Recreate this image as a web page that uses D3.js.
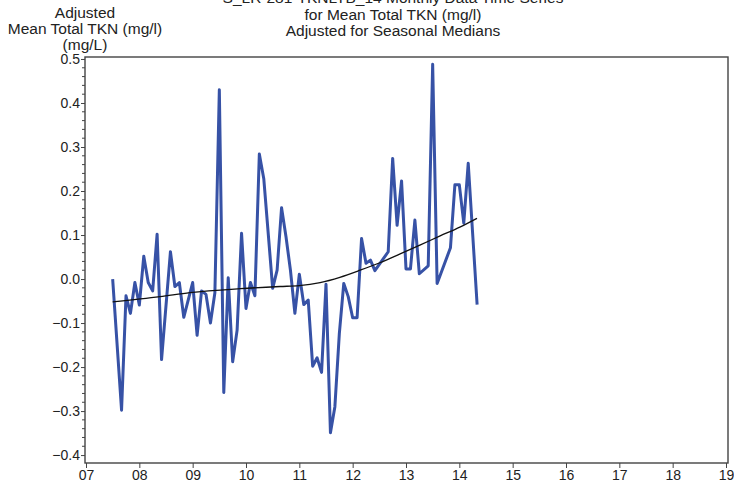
<!DOCTYPE html>
<html><head><meta charset="utf-8">
<script src="https://cdn.jsdelivr.net/npm/d3@7"></script>
<style>body{margin:0;background:#fff;} text{font-family:"Liberation Sans",Arial,sans-serif;}</style>
</head><body><svg id="c" width="734" height="485"></svg>
<script>
// Month index from July 2007 (k=0) and adjusted values
const monthIndex = [0,2,3,4,5,6,7,8,9,10,11,13,14,15,16,18,19,20,21,22,23,24,25,26,27,28,29,30,31,32,33,34,36,37,38,39,40,41,42,43,44,45,46,47,48,49,50,51,52,53,54,55,56,57,58,59,62,63,64,65,66,67,68,69,71,72,73,76,77,78,79,80,82];
const values = [0.0,-0.298,-0.038,-0.078,-0.008,-0.059,0.052,-0.008,-0.027,0.102,-0.183,0.062,-0.017,-0.008,-0.087,-0.008,-0.128,-0.027,-0.035,-0.100,-0.031,0.430,-0.258,0.003,-0.188,-0.116,0.104,-0.067,-0.008,-0.038,0.284,0.228,-0.021,0.020,0.162,0.096,0.020,-0.078,0.011,-0.058,-0.048,-0.198,-0.179,-0.212,-0.012,-0.349,-0.290,-0.124,-0.010,-0.040,-0.088,-0.088,0.092,0.036,0.043,0.019,0.062,0.274,0.122,0.223,0.023,0.023,0.134,0.012,0.030,0.488,-0.010,0.071,0.214,0.214,0.127,0.263,-0.058];
// Trend (smooth): decimal years (2-digit) and values
const trendYears = [7.5,8.39,8.95,9.89,10.64,11.0,11.39,11.76,12.14,12.51,12.89,13.26,13.64,14.01,14.33];
const trendValues = [-0.052,-0.040,-0.031,-0.022,-0.017,-0.015,-0.008,0.004,0.020,0.037,0.057,0.077,0.098,0.118,0.138];
const xTicks = [7,8,9,10,11,12,13,14,15,16,17,18,19];
const yTicks = [-0.4,-0.3,-0.2,-0.1,0.0,0.1,0.2,0.3,0.4,0.5];
const titleLines = ["S_LR-281-TKNLTB_14 Monthly Data Time Series","for Mean Total TKN (mg/l)","Adjusted for Seasonal Medians"];
const yTitleLines = ["Adjusted","Mean Total TKN (mg/l)","(mg/L)"];

const svg = d3.select("#c");
const L=85, R=728, T=57, B=463;
const x = d3.scaleLinear().domain([7,19]).range([86,726]);
const y = d3.scaleLinear().domain([-0.418,0.5045]).range([B,T]);

// frame
svg.append("rect").attr("x",L).attr("y",T).attr("width",R-L).attr("height",B-T)
  .attr("fill","none").attr("stroke","#444").attr("stroke-width",1.4);

// y axis
const yAxis = d3.axisLeft(y).tickValues(yTicks).tickFormat(d3.format(".1f")).tickSize(4).tickPadding(1);
const gy = svg.append("g").attr("transform",`translate(${L},0)`).call(yAxis);
gy.select(".domain").remove();
gy.selectAll("text").attr("font-size",14).attr("fill","#222").attr("font-family","Liberation Sans, Arial, sans-serif");
gy.selectAll(".tick line").attr("stroke","#444");
const minor = d3.range(-0.42,0.501,0.02).map(v=>+v.toFixed(2)).filter(v=>v>=-0.418 && !yTicks.some(t=>Math.abs(t-v)<1e-6));
svg.append("g").selectAll("line").data(minor).join("line")
  .attr("x1",L-3).attr("x2",L).attr("y1",d=>y(d)).attr("y2",d=>y(d)).attr("stroke","#444");

// x axis
const xAxis = d3.axisBottom(x).tickValues(xTicks).tickFormat(d3.format("02d")).tickSize(5).tickPadding(2);
const gx = svg.append("g").attr("transform",`translate(0,${B})`).call(xAxis);
gx.select(".domain").remove();
gx.selectAll("text").attr("font-size",14).attr("fill","#222").attr("font-family","Liberation Sans, Arial, sans-serif");
gx.selectAll(".tick line").attr("stroke","#444");

// data line
const pts = monthIndex.map((k,i)=>({t:7.5+k/12, v:values[i]}));
svg.append("path").datum(pts)
  .attr("d", d3.line().x(d=>x(d.t)).y(d=>y(d.v)))
  .attr("fill","none").attr("stroke","#3752a6").attr("stroke-width",3).attr("stroke-linejoin","round");

// trend
const tp = trendYears.map((t,i)=>({t, v:trendValues[i]}));
svg.append("path").datum(tp)
  .attr("d", d3.line().curve(d3.curveMonotoneX).x(d=>x(d.t)).y(d=>y(d.v)))
  .attr("fill","none").attr("stroke","#111").attr("stroke-width",1.3);

// titles
const titleY = [2.5,20,35.5];
svg.append("g").selectAll("text").data(titleLines).join("text")
  .attr("x",393).attr("y",(d,i)=>titleY[i]).attr("text-anchor","middle")
  .attr("font-size",15.5).attr("fill","#222").text(d=>d);
svg.append("g").selectAll("text").data(yTitleLines).join("text")
  .attr("x",85).attr("y",(d,i)=>17.5+i*16).attr("text-anchor","middle")
  .attr("font-size",15.5).attr("fill","#222").text(d=>d);
</script></body></html>
